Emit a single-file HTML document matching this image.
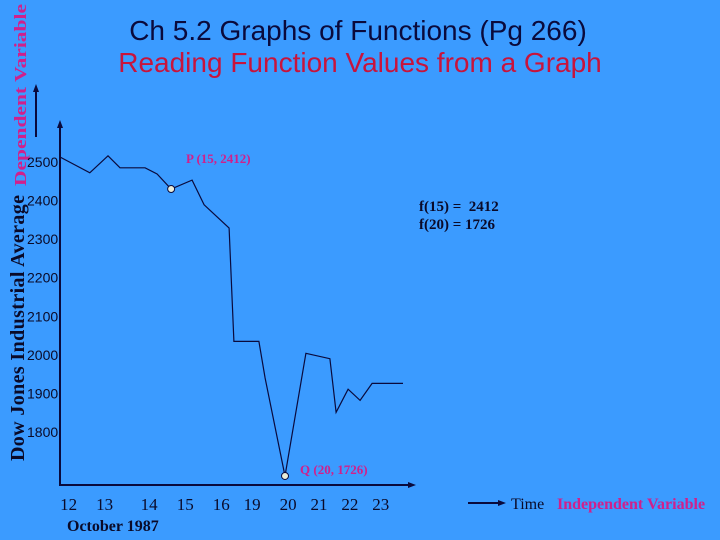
<!DOCTYPE html>
<html><head><meta charset="utf-8"><style>
html,body{margin:0;padding:0}
body{width:720px;height:540px;background:#3b9bff;overflow:hidden}
svg{display:block}
</style></head><body>
<svg width="720" height="540" viewBox="0 0 720 540" xmlns="http://www.w3.org/2000/svg">
<rect width="720" height="540" fill="#3b9bff"/>
<text x="358" y="40" text-anchor="middle" font-family="Liberation Sans, sans-serif" font-size="28" fill="#0a0a3c">Ch 5.2 Graphs of Functions (Pg 266)</text>
<text x="360" y="72" text-anchor="middle" font-family="Liberation Sans, sans-serif" font-size="28" fill="#c8143c">Reading Function Values from a Graph</text>
<line x1="36" y1="137" x2="36" y2="90" stroke="#0a0a3c" stroke-width="2"/>
<polygon points="36,84 33,92 39,92" fill="#0a0a3c"/>
<text transform="translate(26,186) rotate(-90)" font-family="Liberation Serif, serif" font-weight="bold" font-size="17" textLength="182" lengthAdjust="spacingAndGlyphs" fill="#d0208c">Dependent Variable</text>
<text transform="translate(24,461) rotate(-90)" font-family="Liberation Serif, serif" font-weight="bold" font-size="20" textLength="266" fill="#0a0a28">Dow Jones Industrial Average</text>
<line x1="60" y1="126" x2="60" y2="486" stroke="#0a0a3c" stroke-width="2"/>
<polygon points="60,120 57,128 63,128" fill="#0a0a3c"/>
<line x1="59" y1="485" x2="410" y2="485" stroke="#0a0a3c" stroke-width="2"/>
<polygon points="416,485 408,482 408,488" fill="#0a0a3c"/>
<g id="yticks"></g>
<g id="xticks"></g>
<polyline id="series" fill="none" stroke="#0a0a3c" stroke-width="1.2"/>
<g id="marks"></g>
<text x="186" y="163" font-family="Liberation Serif, serif" font-weight="bold" font-size="13" fill="#d0208c">P (15, 2412)</text>
<text x="300" y="474" font-family="Liberation Serif, serif" font-weight="bold" font-size="13" fill="#d0208c">Q (20, 1726)</text>
<text x="419" y="211" font-family="Liberation Serif, serif" font-weight="bold" font-size="15" fill="#0a0a28" xml:space="preserve">f(15) =  2412</text>
<text x="419" y="229" font-family="Liberation Serif, serif" font-weight="bold" font-size="15" fill="#0a0a28">f(20) = 1726</text>
<text x="67" y="531" font-family="Liberation Serif, serif" font-weight="bold" font-size="16" fill="#0a0a28">October 1987</text>
<line x1="468" y1="503" x2="500" y2="503" stroke="#0a0a3c" stroke-width="2"/>
<polygon points="506,503 498,500 498,506" fill="#0a0a3c"/>
<text x="511" y="509" font-family="Liberation Serif, serif" font-size="16" fill="#0a0a28">Time</text>
<text x="557" y="509" font-family="Liberation Serif, serif" font-weight="bold" font-size="16" fill="#d0208c">Independent Variable</text>
</svg>
<script>
const yTicks = [2500, 2400, 2300, 2200, 2100, 2000, 1900, 1800];
const xTickLabels = ["12","13","14","15","16","19","20","21","22","23"];
const xTickPos = [0.25, 1.3, 2.6, 3.65, 4.7, 5.6, 6.65, 7.55, 8.45, 9.35];
const times = [0, 0.87, 1.40, 1.75, 2.48, 2.83, 3.24, 3.85, 4.20, 4.93, 5.07, 5.80, 5.98, 6.56, 7.17, 7.87, 8.05, 8.40, 8.75, 9.10, 10];
const values = [2513, 2472, 2516, 2485, 2485, 2469, 2430, 2453, 2389, 2329, 2035, 2035, 1940, 1686, 2004, 1990, 1851, 1911, 1882, 1926, 1926];
const markedPoints = [6, 13];
const NS = "http://www.w3.org/2000/svg";
function xs(t){ return 60 + t * 34.3; }
function ys(v){ return 162 + (2500 - v) * 0.3857; }
const yg = document.getElementById('yticks');
yTicks.forEach(v=>{
  const t = document.createElementNS(NS,'text');
  t.setAttribute('x', 27); t.setAttribute('y', ys(v) + 5);
  t.setAttribute('font-family','Liberation Sans, sans-serif');
  t.setAttribute('font-size','14'); t.setAttribute('fill','#0a0a28');
  t.textContent = v;
  
  
  yg.appendChild(t);
});
const xg = document.getElementById('xticks');
xTickLabels.forEach((l,i)=>{
  const t = document.createElementNS(NS,'text');
  t.setAttribute('x', xs(xTickPos[i])); t.setAttribute('y', 510);
  t.setAttribute('text-anchor','middle');
  t.setAttribute('font-family','Liberation Serif, serif');
  t.setAttribute('font-size','17'); t.setAttribute('fill','#0a0a28');
  t.textContent = l;
  
  
  xg.appendChild(t);
});
document.getElementById('series').setAttribute('points', times.map((t,i)=>xs(t).toFixed(1)+','+ys(values[i]).toFixed(1)).join(' '));
const mg = document.getElementById('marks');
markedPoints.forEach(i=>{
  const c = document.createElementNS(NS,'circle');
  c.setAttribute('cx', xs(times[i])); c.setAttribute('cy', ys(values[i]));
  c.setAttribute('r', 3.5); c.setAttribute('fill','#e8ecd8'); c.setAttribute('stroke','#0a0a3c'); c.setAttribute('stroke-width','1');
  
  
  mg.appendChild(c);
});
</script>
</body></html>
